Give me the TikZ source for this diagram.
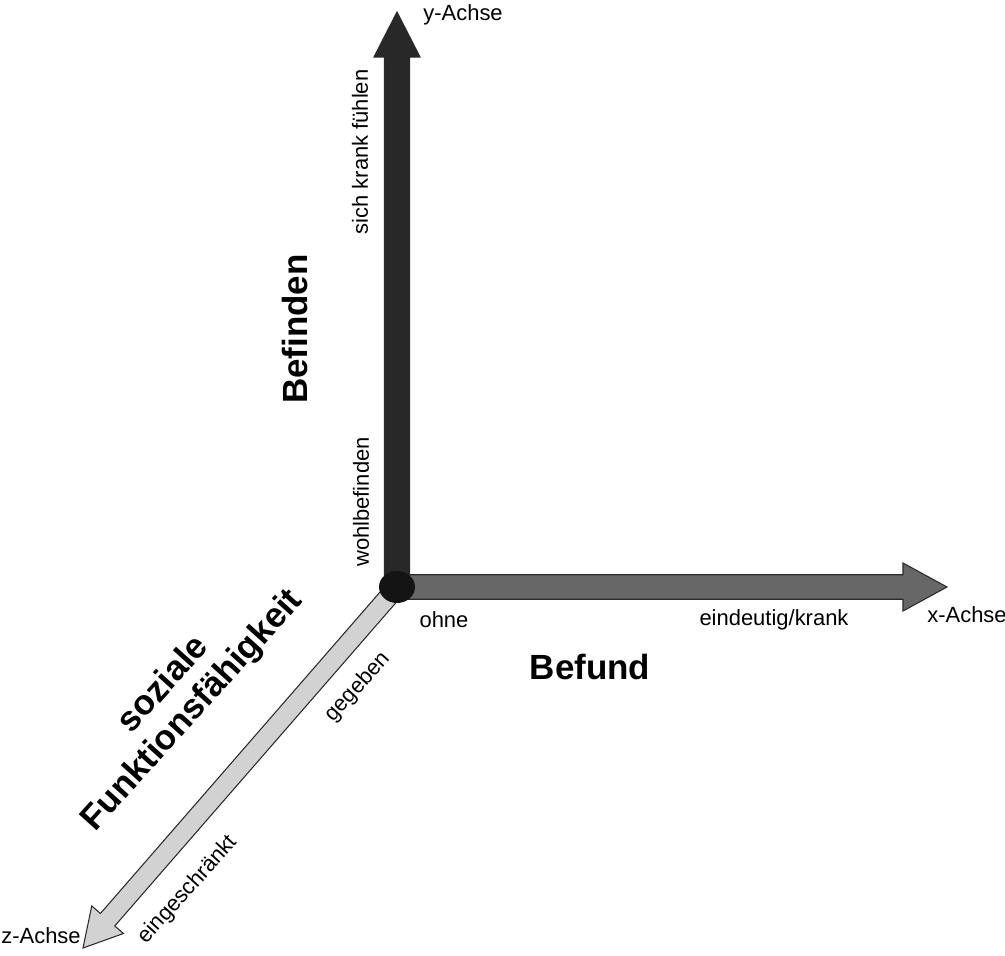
\documentclass[tikz,border=0pt]{standalone}
\usepackage{fontspec}
\setmainfont{Liberation Sans}
\usepackage{tikz}
\usetikzlibrary{calc, positioning}

\definecolor{ydark}{HTML}{282828}
\definecolor{xmid}{HTML}{676767}
\definecolor{zlight}{HTML}{D2D2D2}
\definecolor{rand}{HTML}{2A2A2A}

\tikzset{
  axisbody/.style={draw=rand, line width=0.6pt, line join=miter},
  lbl/.style={font=\fontsize{12.5}{14}\selectfont, inner sep=0pt},
  titel/.style={font=\fontsize{19.9}{22}\selectfont\bfseries, inner sep=0pt, align=center},
}

% Blockpfeil: #1 Anfang, #2 Spitze, #3 Farbe, #4 halbe Schaftbreite, #5 halbe Kopfbreite, #6 Kopflaenge
\newcommand{\blockpfeil}[6]{%
  \coordinate (#2base) at ($(#2)!#6!(#1)$);
  \filldraw[axisbody, fill=#3] ($(#1)!#4!90:(#2)$) -- ($(#2base)!#4!90:(#2)$)
    -- ($(#2base)!#5!90:(#2)$) -- (#2) -- ($(#2base)!#5!-90:(#2)$)
    -- ($(#2base)!#4!-90:(#2)$) -- ($(#1)!#4!-90:(#2)$) -- cycle;
}

\begin{document}
\begin{tikzpicture}
    \useasboundingbox (-7.94,-7.36) rectangle (12.16,11.74);

    % Ursprung und Achsenenden
    \coordinate (O) at (0,0);
    \coordinate (xtip) at (11.0,0);
    \coordinate (ytip) at (0,11.5);
    \coordinate (ztip) at (-6.28,-7.22);

    % z-Achse (hellgrau)
    \blockpfeil{O}{ztip}{zlight}{0.19cm}{0.42cm}{0.75cm}

    % x-Achse (mittelgrau)
    \blockpfeil{O}{xtip}{xmid}{0.245cm}{0.48cm}{0.88cm}

    % y-Achse (dunkel)
    \blockpfeil{O}{ytip}{ydark}{0.25cm}{0.46cm}{0.9cm}

    % Punkt im Ursprung
    \fill[black!92] (O) ellipse (0.36 and 0.32);

    % Beschriftung y-Achse
    \node[lbl, anchor=west] (yname) at (0.52,11.44) {y-Achse};
    \node[lbl, rotate=90] (ykrank) at (-0.74,8.70) {sich krank fühlen};
    \node[lbl, rotate=90] (ywohl) at (-0.72,1.70) {wohlbefinden};
    \node[titel, rotate=90] (befinden) at (-2.04,5.16) {Befinden};

    % Beschriftung x-Achse
    \node[lbl] (xohne) at (0.94,-0.66) {ohne};
    \node[lbl] (xkrank) at (7.54,-0.66) {eindeutig/krank};
    \node[lbl] (xname) at (11.40,-0.56) {x-Achse};
    \node[titel] (befund) at (3.86,-1.60) {Befund};

    % Beschriftung z-Achse
    \node[lbl, rotate=48] (zgegeben) at (-0.78,-2.00) {gegeben};
    \node[lbl, rotate=48] (zeinge) at (-4.18,-6.06) {eingeschränkt};
    \node[lbl] (zname) at (-7.12,-6.98) {z-Achse};
    \node[titel, rotate=48] (sozial) at (-4.37,-2.22) {soziale\\Funktionsfähigkeit};

\end{tikzpicture}
\end{document}
